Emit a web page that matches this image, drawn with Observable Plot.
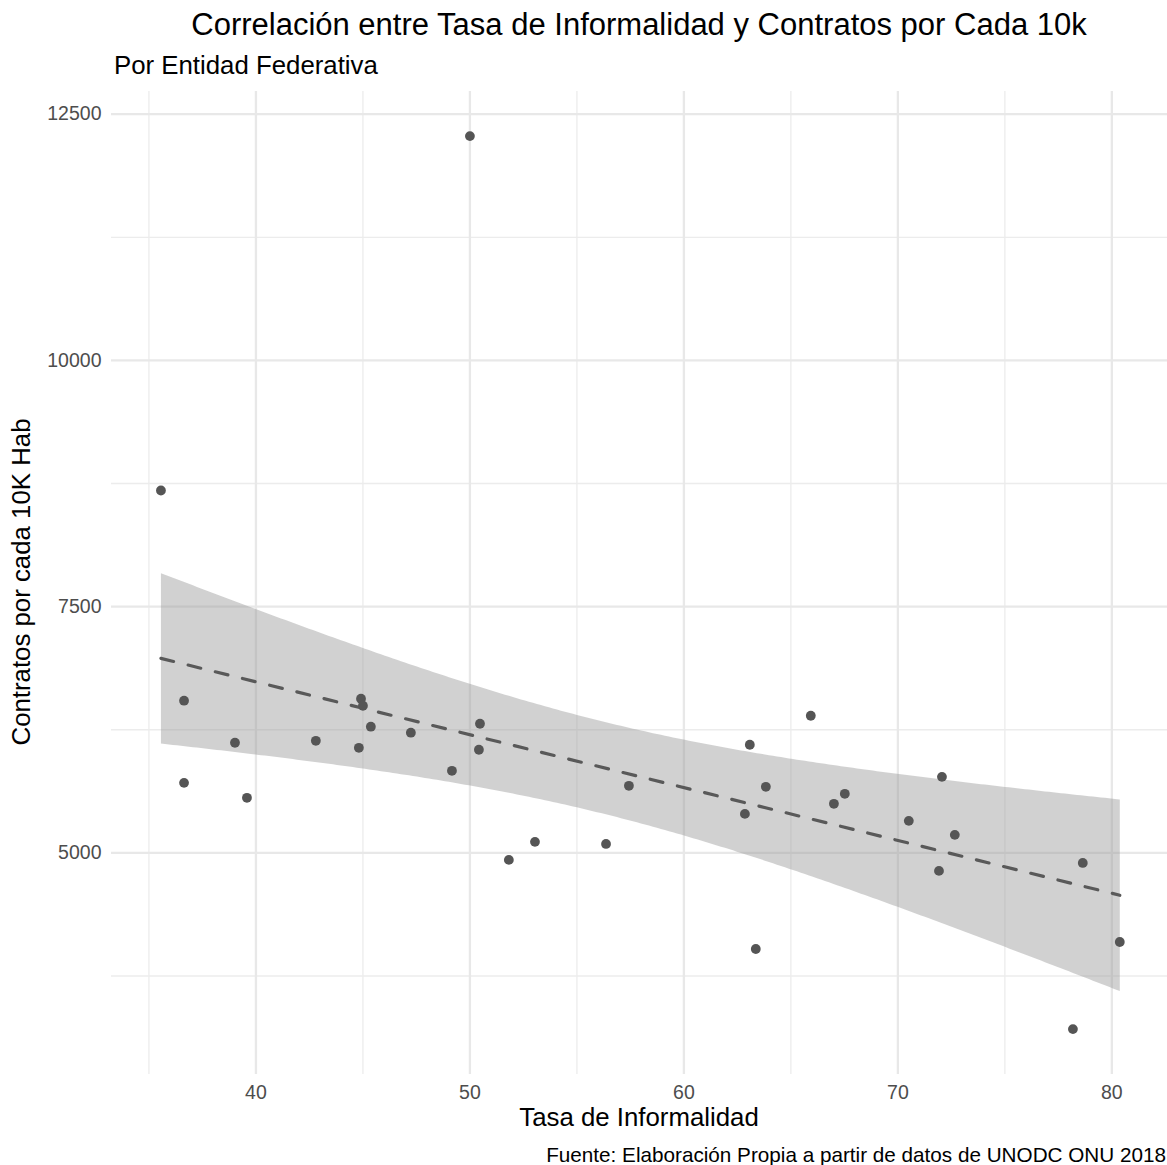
<!DOCTYPE html>
<html>
<head>
<meta charset="utf-8">
<script src="https://cdn.jsdelivr.net/npm/d3@7"></script>
<script src="https://cdn.jsdelivr.net/npm/@observablehq/plot@0.6"></script>
<style>
  html, body { margin: 0; padding: 0; background: #fff; }
  #wrap { position: relative; width: 1167px; height: 1165px; overflow: hidden; font-family: "Liberation Sans", Arial, Helvetica, sans-serif; }
  .t { position: absolute; white-space: nowrap; line-height: 1; color: #000; }
  #title { top: 9px; left: 0; width: 1278px; text-align: center; font-size: 31px; }
  #subtitle { top: 53px; left: 114px; font-size: 25.8px; }
  #xlabel { top: 1105px; left: 111px; width: 1056px; text-align: center; font-size: 25.8px; }
  #caption { top: 1145px; right: 1px; font-size: 20.7px; }
  #ylabel { top: 569px; left: -278px; width: 600px; text-align: center; font-size: 25.8px; transform: rotate(-90deg); transform-origin: 300px 13px; }
  #chart { position: absolute; top: 80px; left: 0; }
</style>
</head>
<body>
<div id="wrap">
  <div class="t" id="title">Correlación entre Tasa de Informalidad y Contratos por Cada 10k</div>
  <div class="t" id="subtitle">Por Entidad Federativa</div>
  <div id="chart"></div>
  <div class="t" id="ylabel">Contratos por cada 10K Hab</div>
  <div class="t" id="xlabel">Tasa de Informalidad</div>
  <div class="t" id="caption">Fuente: Elaboración Propia a partir de datos de UNODC ONU 2018</div>
</div>
<script>
// Tasa de informalidad (%) por entidad federativa
const informalidad = [35.56, 36.64, 36.64, 39.02, 39.58, 42.80, 44.81, 44.91, 45.00, 45.37, 47.24,
  49.16, 50.00, 50.47, 50.42, 51.82, 53.04, 56.36, 57.43, 62.85, 63.08, 63.36, 63.83, 65.93,
  67.01, 67.52, 70.51, 71.92, 72.06, 72.66, 78.18, 78.64, 80.37];
// Contratos por cada 10K habitantes
const contratos = [8679, 6545, 5711, 6118, 5559, 6138, 6067, 6565, 6494, 6281, 6220,
  5833, 12277, 6311, 6047, 4929, 5112, 5091, 5681, 5396, 6098, 4024, 5671, 6392,
  5498, 5600, 5325, 4817, 5772, 5183, 3211, 4898, 4095];

const xMajorTicks = [40, 50, 60, 70, 80];
const xMinorTicks = [35, 45, 55, 65, 75];
const yMajorTicks = [5000, 7500, 10000, 12500];
const yMinorTicks = [3750, 6250, 8750, 11250];

const data = informalidad.map((x, i) => ({x, y: contratos[i]}));

const chart = Plot.plot({
  width: 1167,
  height: 1030,
  marginLeft: 111,
  marginRight: 0,
  marginTop: 11,
  marginBottom: 36,
  x: {domain: [33.25, 82.6]},
  y: {domain: [2750, 12730]},
  style: {fontFamily: '"Liberation Sans", Arial, Helvetica, sans-serif', fontSize: "19.5px", color: "#4d4d4d", background: "white"},
  marks: [
    Plot.ruleX(xMinorTicks, {stroke: "#ececec", strokeWidth: 1.3}),
    Plot.ruleY(yMinorTicks, {stroke: "#ececec", strokeWidth: 1.3}),
    Plot.ruleX(xMajorTicks, {stroke: "#e8e8e8", strokeWidth: 2.3}),
    Plot.ruleY(yMajorTicks, {stroke: "#e8e8e8", strokeWidth: 2.3}),
    Plot.axisX({ticks: xMajorTicks, tickSize: 0, tickPadding: 11, label: null, fill: "#4d4d4d"}),
    Plot.axisY({ticks: yMajorTicks, tickSize: 0, tickPadding: 10, label: null, fill: "#4d4d4d", tickFormat: d3.format("d")}),
    Plot.linearRegressionY(data, {x: "x", y: "y", ci: 0.95, fill: "#999", fillOpacity: 0.45,
      stroke: "#595959", strokeWidth: 3.2, strokeDasharray: "13,15"}),
    Plot.dot(data, {x: "x", y: "y", r: 4.9, fill: "#555", stroke: "none"})
  ]
});
document.getElementById("chart").append(chart);
</script>
</body>
</html>
